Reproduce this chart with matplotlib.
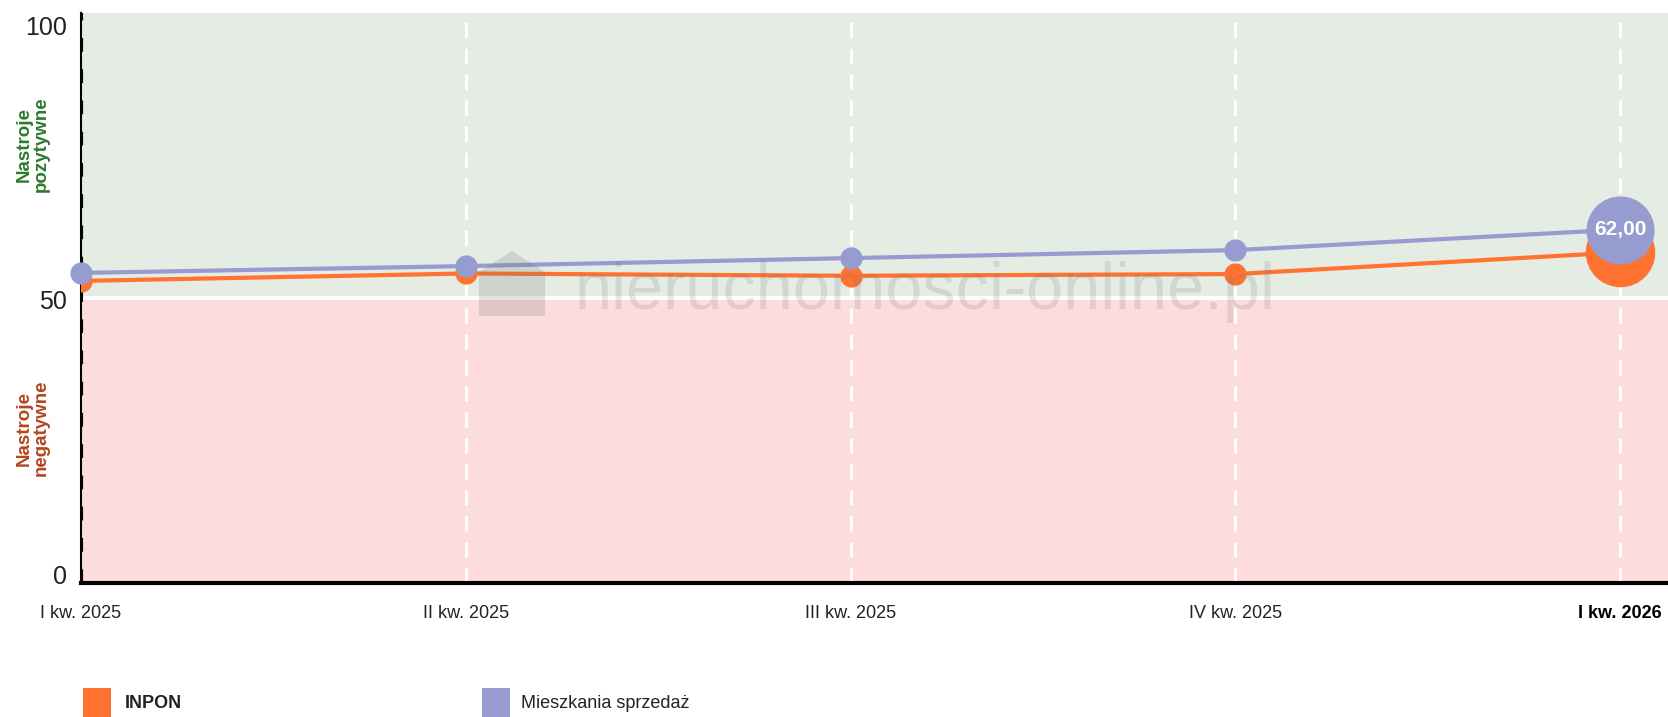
import matplotlib
matplotlib.use("Agg")
import matplotlib.pyplot as plt
import matplotlib.transforms as mtransforms
from matplotlib.patches import Rectangle, Polygon

plt.rcParams['font.family'] = ['Liberation Sans', 'DejaVu Sans']

# Quarterly sentiment index data
quarters = ["I kw. 2025", "II kw. 2025", "III kw. 2025", "IV kw. 2025", "I kw. 2026"]
inpon = [53.0, 54.3, 53.9, 54.2, 58.0]
mieszkania = [54.4, 55.6, 57.0, 58.4, 62.0]
series_names = ["INPON", "Mieszkania sprzedaż"]
y_ticks = [0, 50, 100]

ORANGE = "#ff7230"
BLUE = "#969cd0"
GREEN_BG = "#e4ece3"
PINK_BG = "#fcdcdd"

W, H = 1668, 717
fig = plt.figure(figsize=(W / 100, H / 100), dpi=100)
fig.patch.set_facecolor("white")

left_px, right_px, top_px, bottom_px = 81, 1668, 13, 583
ax = fig.add_axes([left_px / W, (H - bottom_px) / H,
                   (right_px - left_px) / W, (bottom_px - top_px) / H])

xs = list(range(len(quarters)))
step_px = (1620 - left_px) / (len(quarters) - 1)
ax.set_xlim(0, (right_px - left_px) / step_px)
ax.set_ylim(0, 100)

# Positive / negative sentiment zones
ax.axhspan(50, 100, color=GREEN_BG, lw=0, zorder=0)
ax.axhspan(0, 50, color=PINK_BG, lw=0, zorder=0)
ax.axhline(50, color="white", lw=3, zorder=1)

# Vertical dashed guides
for x in xs[1:]:
    ax.axvline(x, color="white", lw=2.2, dashes=(5, 3.5), zorder=1)
ax.axvline(0, color="black", lw=3, dashes=(3.3, 4.2), zorder=2)

for s in ("top", "right"):
    ax.spines[s].set_visible(False)
ax.spines["left"].set_color("black")
ax.spines["left"].set_linewidth(1.5)
ax.spines["bottom"].set_color("black")
ax.spines["bottom"].set_linewidth(3)
ax.spines["left"].set_zorder(3)
ax.spines["bottom"].set_zorder(3)

ax.set_yticks([])
ax.set_xticks(xs)
ax.set_xticklabels(quarters, fontsize=13, color="#222222")
ax.tick_params(axis="x", length=0, pad=16)
ax.get_xticklabels()[-1].set_fontweight("bold")
ax.get_xticklabels()[-1].set_color("black")

# Y value labels
yt = ax.get_yaxis_transform()
ylab_specs = {100: ("top", -3), 50: ("center", -4), 0: ("center", 6)}
for v in y_ticks:
    va, dy = ylab_specs[v]
    tr = mtransforms.offset_copy(yt, fig=fig, x=-14, y=dy, units="dots")
    ax.text(0, v, str(v), transform=tr, ha="right", va=va,
            fontsize=18, color="#222222")

# Zone captions
fig.text(33 / W, 1 - 144 / H, "Nastroje\npozytywne", rotation=90,
         ha="center", va="center", multialignment="center",
         fontsize=13.5, fontweight="bold", color="#2d7a2d", linespacing=1.0)
fig.text(33 / W, 1 - 428 / H, "Nastroje\nnegatywne", rotation=90,
         ha="center", va="center", multialignment="center",
         fontsize=13.5, fontweight="bold", color="#b4451f", linespacing=1.0)

# Watermark
wm_color = (0.45, 0.45, 0.45)
house = [(479, 316), (545, 316), (545, 272), (512, 251), (479, 272)]
fig.patches.append(Polygon([(px / W, 1 - py / H) for px, py in house],
                           closed=True, transform=fig.transFigure,
                           facecolor=wm_color, alpha=0.2, lw=0, zorder=1.5))
fig.text(575 / W, 1 - 292 / H, "nieruchomosci-online.pl", ha="left",
         va="center", fontsize=48, color=wm_color, alpha=0.17, zorder=1.5)

# Series lines and markers
ax.plot(xs, inpon, color=ORANGE, lw=3, zorder=4, solid_capstyle="round")
ax.plot(xs[:-1], inpon[:-1], "o", color=ORANGE, ms=16, mec="none", zorder=5)
ax.plot(xs[-1:], inpon[-1:], "o", color=ORANGE, ms=50, mec="none", zorder=5,
        clip_on=False)
ax.plot(xs, mieszkania, color=BLUE, lw=3, zorder=6, solid_capstyle="round")
ax.plot(xs[:-1], mieszkania[:-1], "o", color=BLUE, ms=16, mec="none",
        zorder=7, clip_on=False)
ax.plot(xs[-1:], mieszkania[-1:], "o", color=BLUE, ms=49, mec="none",
        zorder=7, clip_on=False)
ax.text(xs[-1], mieszkania[-1], f"{mieszkania[-1]:.2f}".replace(".", ","),
        ha="center", va="center", color="white", fontsize=15,
        fontweight="bold", zorder=8)

# Legend
legend_items = [(83, 125, ORANGE, "bold"), (482, 521, BLUE, "normal")]
for (sq_x, tx_x, col, weight), name in zip(legend_items, series_names):
    fig.patches.append(Rectangle((sq_x / W, 1 - 717 / H), 28 / W, 29 / H,
                                 transform=fig.transFigure, facecolor=col,
                                 lw=0))
    fig.text(tx_x / W, 1 - 703 / H, name, ha="left", va="center",
             fontsize=13, fontweight=weight, color="#222222")

fig.savefig("out.png", dpi=100)
